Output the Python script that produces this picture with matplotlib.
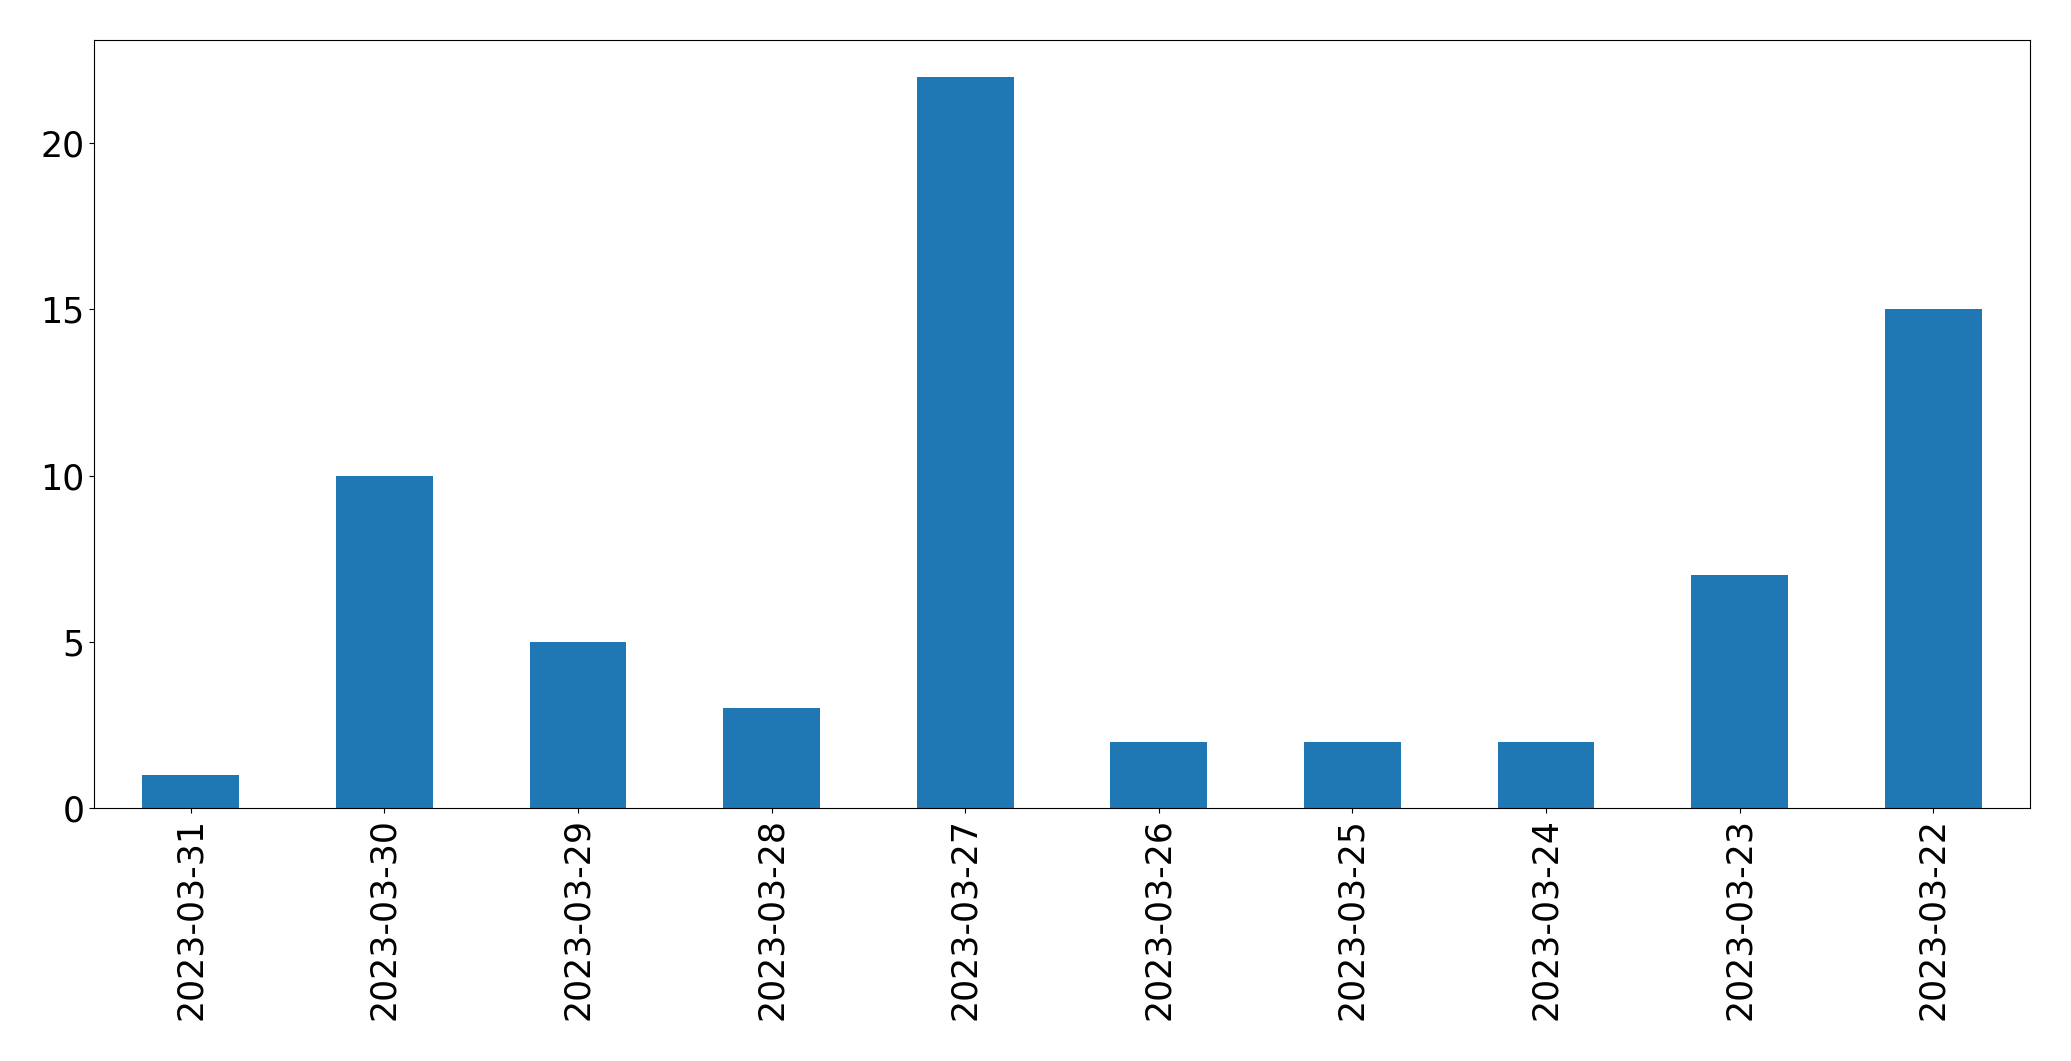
import matplotlib
matplotlib.use('Agg')
import matplotlib.pyplot as plt

dates = ['2023-03-31', '2023-03-30', '2023-03-29', '2023-03-28', '2023-03-27',
         '2023-03-26', '2023-03-25', '2023-03-24', '2023-03-23', '2023-03-22']
counts = [1, 10, 5, 3, 22, 2, 2, 2, 7, 15]

fig = plt.figure(figsize=(20.71, 10.61), dpi=100)
ax = fig.add_axes([94 / 2071, 1 - 808 / 1061, (2030 - 94) / 2071, (808 - 40) / 1061])
x = range(len(dates))
ax.bar(x, counts, width=0.5, color='#1f77b4')
ax.set_xlim(-0.5, len(dates) - 0.5)
ax.set_xticks(list(x))
ax.set_xticklabels(dates, rotation=90)
ax.set_yticks([0, 5, 10, 15, 20])
ax.tick_params(labelsize=25)
fig.savefig('out.png', dpi=100)
